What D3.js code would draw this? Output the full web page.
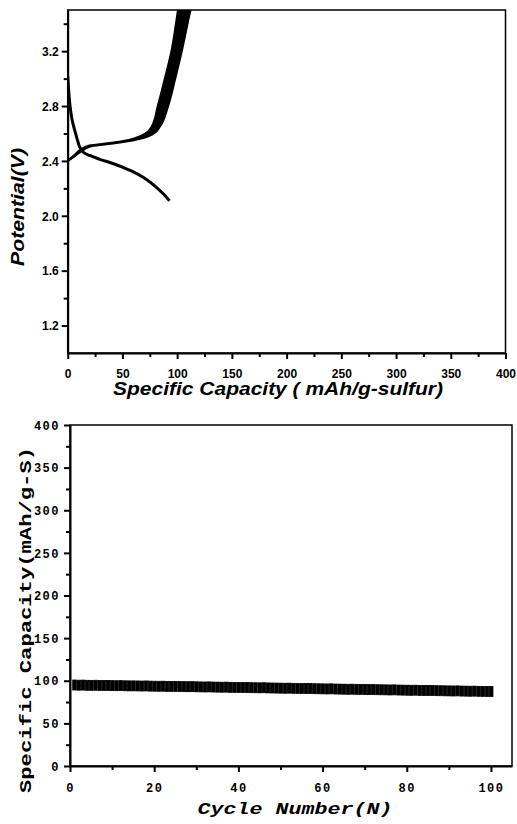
<!DOCTYPE html>
<html>
<head>
<meta charset="utf-8">
<script src="https://cdn.jsdelivr.net/npm/d3@7"></script>
<style>
  body { margin: 0; background: #fff; }
  .ax path, .ax line { stroke: #000; stroke-width: 2; }
  .topfont text { font-family: "Liberation Sans", Arial, sans-serif; font-weight: bold; font-size: 12px; fill: #000; }
  .botfont text { font-family: "Liberation Mono", "Courier New", monospace; font-weight: bold; font-size: 12px; letter-spacing: 1.5px; fill: #000; }
</style>
</head>
<body>
<script>
// ---- top panel data: charge / discharge profiles ----
let dischargeCap = [0, 1, 2, 4, 6.5, 9, 11, 14, 20, 30, 40, 50, 60, 70, 80, 88, 93];
let dischargeV = [3.02, 2.9, 2.81, 2.7, 2.62, 2.55, 2.5, 2.465, 2.44, 2.41, 2.385, 2.355, 2.32, 2.275, 2.215, 2.155, 2.11];

// charge curves overlap into a band: left (first) and right (last) edge
let chargeV = [2.40, 2.44, 2.48, 2.51, 2.53, 2.545, 2.56, 2.58, 2.61, 2.65, 2.8, 3.0, 3.2, 3.5, 3.6];
let chargeCapLo = [0, 6, 12, 20, 40, 52, 60, 67, 73, 77, 82.5, 89, 95, 101, 103];
let chargeCapHi = [0, 7, 14, 22, 43, 55, 64, 73, 80, 84, 91.5, 98, 104, 112, 115];

let capTicks = [0, 50, 100, 150, 200, 250, 300, 350, 400];
let potTicks = [1.2, 1.6, 2.0, 2.4, 2.8, 3.2];

// ---- bottom panel data: capacity vs cycle ----
let cycleCapacity = [
  95.0, 94.8, 94.9, 94.7, 94.6, 94.7, 94.5, 94.4, 94.5, 94.3,
  94.2, 94.3, 94.1, 94.0, 94.0, 93.9, 93.8, 93.9, 93.7, 93.6,
  93.5, 93.6, 93.4, 93.3, 93.3, 93.2, 93.1, 93.0, 93.1, 92.9,
  92.8, 92.7, 92.8, 92.6, 92.5, 92.4, 92.5, 92.3, 92.2, 92.1,
  92.0, 92.1, 91.9, 91.8, 91.7, 91.8, 91.6, 91.5, 91.4, 91.3,
  91.2, 91.3, 91.1, 91.0, 90.9, 90.8, 90.9, 90.7, 90.6, 90.5,
  90.4, 90.5, 90.3, 90.2, 90.1, 90.0, 90.1, 89.9, 89.8, 89.7,
  89.6, 89.7, 89.5, 89.4, 89.3, 89.2, 89.3, 89.1, 89.0, 88.9,
  88.8, 88.9, 88.7, 88.6, 88.5, 88.6, 88.4, 88.3, 88.2, 88.1,
  88.0, 88.1, 87.9, 87.8, 87.7, 87.8, 87.6, 87.5, 87.4, 87.3
];
let cycleTicks = [0, 20, 40, 60, 80, 100];
let specCapTicks = [0, 50, 100, 150, 200, 250, 300, 350, 400];

let svg = d3.select("body").append("svg")
  .attr("width", 517)
  .attr("height", 824);

// ===================== top chart =====================
let x1 = d3.scaleLinear([0, 400], [67.7, 505.5]);
let y1 = d3.scaleLinear([1.0, 3.5], [353, 10]);

let topChart = svg.append("g").attr("class", "topfont");

topChart.append("clipPath").attr("id", "clipTop")
  .append("rect")
  .attr("x", x1(0)).attr("y", y1(3.5))
  .attr("width", x1(400) - x1(0)).attr("height", y1(1.0) - y1(3.5));

// frame
topChart.append("rect")
  .attr("x", x1(0)).attr("y", y1(3.5))
  .attr("width", x1(400) - x1(0)).attr("height", y1(1.0) - y1(3.5))
  .attr("fill", "none").attr("stroke", "#000").attr("stroke-width", 1.5);

// minor ticks
topChart.append("g").attr("class", "ax")
  .attr("transform", `translate(0,${y1(1.0)})`)
  .call(d3.axisBottom(x1).tickValues(d3.range(25, 400, 50)).tickSize(4).tickFormat(""))
  .select(".domain").remove();
topChart.append("g").attr("class", "ax")
  .attr("transform", `translate(${x1(0)},0)`)
  .call(d3.axisLeft(y1).tickValues([1.4, 1.8, 2.2, 2.6, 3.0, 3.4]).tickSize(4).tickFormat(""))
  .select(".domain").remove();

topChart.append("g").attr("class", "ax")
  .attr("transform", `translate(0,${y1(1.0)})`)
  .call(d3.axisBottom(x1).tickValues(capTicks).tickSize(6).tickPadding(10).tickSizeOuter(0));
let yAxTop = topChart.append("g").attr("class", "ax")
  .attr("transform", `translate(${x1(0)},0)`)
  .call(d3.axisLeft(y1).tickValues(potTicks).tickFormat(d3.format(".1f")).tickSize(6).tickPadding(3).tickSizeOuter(0));
yAxTop.selectAll("text").attr("dy", "0.35em");

let plotTop = topChart.append("g").attr("clip-path", "url(#clipTop)");

let chargeRows = chargeV.map((v, i) => ({ v: v, lo: chargeCapLo[i], hi: chargeCapHi[i] }));
plotTop.append("path")
  .datum(chargeRows)
  .attr("d", d3.area().curve(d3.curveMonotoneY)
    .y(d => y1(d.v)).x0(d => x1(d.lo)).x1(d => x1(d.hi)))
  .attr("fill", "#000").attr("stroke", "#000").attr("stroke-width", 2.5);

let dischargeRows = dischargeCap.map((c, i) => ({ c: c, v: dischargeV[i] }));
plotTop.append("path")
  .datum(dischargeRows)
  .attr("d", d3.line().curve(d3.curveCatmullRom.alpha(0.5)).x(d => x1(d.c)).y(d => y1(d.v)))
  .attr("fill", "none").attr("stroke", "#000").attr("stroke-width", 3);

topChart.append("text")
  .attr("x", 278).attr("y", 395)
  .attr("text-anchor", "middle")
  .style("font-size", "18px").style("font-style", "italic")
  .attr("textLength", 330).attr("lengthAdjust", "spacingAndGlyphs")
  .text("Specific Capacity ( mAh/g-sulfur)");

topChart.append("text")
  .attr("transform", "translate(24,207) rotate(-90)")
  .attr("text-anchor", "middle")
  .style("font-size", "18px").style("font-style", "italic")
  .attr("textLength", 118).attr("lengthAdjust", "spacingAndGlyphs")
  .text("Potential(V)");

// ===================== bottom chart =====================
let x2 = d3.scaleLinear([0, 105], [70, 512]);
let y2 = d3.scaleLinear([0, 400], [766, 425]);

let botChart = svg.append("g").attr("class", "botfont");

botChart.append("rect")
  .attr("x", x2(0)).attr("y", y2(400))
  .attr("width", x2(105) - x2(0)).attr("height", y2(0) - y2(400))
  .attr("fill", "none").attr("stroke", "#000").attr("stroke-width", 1.5);

botChart.append("g").attr("class", "ax")
  .attr("transform", `translate(0,${y2(0)})`)
  .call(d3.axisBottom(x2).tickValues(d3.range(10, 105, 20)).tickSize(4).tickFormat(""))
  .select(".domain").remove();
botChart.append("g").attr("class", "ax")
  .attr("transform", `translate(${x2(0)},0)`)
  .call(d3.axisLeft(y2).tickValues(d3.range(25, 400, 50)).tickSize(4).tickFormat(""))
  .select(".domain").remove();

botChart.append("g").attr("class", "ax")
  .attr("transform", `translate(0,${y2(0)})`)
  .call(d3.axisBottom(x2).tickValues(cycleTicks).tickSize(6).tickPadding(11).tickSizeOuter(0));
let yAxBot = botChart.append("g").attr("class", "ax")
  .attr("transform", `translate(${x2(0)},0)`)
  .call(d3.axisLeft(y2).tickValues(specCapTicks).tickSize(6).tickPadding(4).tickSizeOuter(0));
yAxBot.selectAll("text").attr("dy", "0.35em");

botChart.append("g")
  .selectAll("rect")
  .data(cycleCapacity)
  .enter()
  .append("rect")
  .attr("x", (d, i) => x2(i + 1) - 1.5)
  .attr("y", d => y2(d) - 5)
  .attr("width", 3.5)
  .attr("height", 10)
  .attr("fill", "#000")
  .attr("stroke", "#000")
  .attr("stroke-width", 0.8);

botChart.append("text")
  .attr("x", 295).attr("y", 814)
  .attr("text-anchor", "middle")
  .style("font-size", "17px").style("font-style", "italic").style("letter-spacing", "0px")
  .attr("textLength", 195).attr("lengthAdjust", "spacingAndGlyphs")
  .text("Cycle Number(N)");

botChart.append("text")
  .attr("transform", "translate(31,620) rotate(-90)")
  .attr("text-anchor", "middle")
  .style("font-size", "17px").style("letter-spacing", "0px")
  .attr("textLength", 346).attr("lengthAdjust", "spacingAndGlyphs")
  .text("Specific Capacity(mAh/g-S)");
</script>
</body>
</html>
